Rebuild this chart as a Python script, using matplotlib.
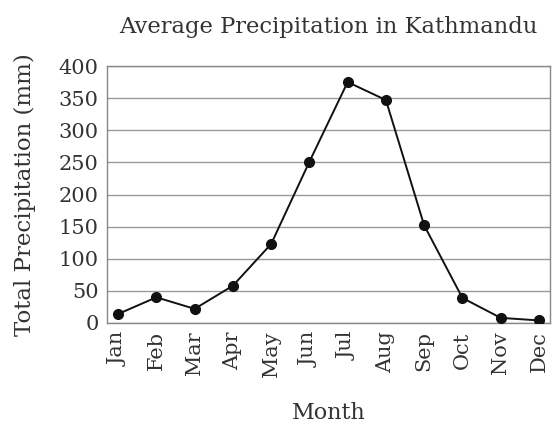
import numpy as np
import matplotlib.pyplot as plt

months = ["Jan", "Feb", "Mar", "Apr", "May", "Jun",
          "Jul", "Aug", "Sep", "Oct", "Nov", "Dec"]
precip = [14, 40, 22, 58, 123, 251, 375, 347, 152, 39, 8, 4]
yticks = [0, 50, 100, 150, 200, 250, 300, 350, 400]

plt.rcParams.update({'font.family': 'DejaVu Serif',
                     'text.color': '#333333',
                     'axes.labelcolor': '#333333',
                     'xtick.color': '#333333',
                     'ytick.color': '#333333'})

fig = plt.figure(figsize=(5.58, 4.25), dpi=100)
ax = fig.add_axes([0.1918, 0.24, 0.7939, 0.6047])

x = np.arange(len(months))
ax.plot(x, precip, color='#111111', lw=1.4, marker='o', ms=7, zorder=3)

ax.set_xlim(-0.29, 11.29)
ax.set_ylim(0, 400)
ax.set_yticks(yticks)
ax.set_xticks(x)
ax.set_xticklabels(months, rotation=90)
ax.tick_params(axis='both', labelsize=15, length=0, pad=6)
ax.yaxis.grid(True, color='#999999', lw=1)
ax.set_axisbelow(True)
for s in ax.spines.values():
    s.set_color('#888888')
    s.set_linewidth(1)

ax.set_xlabel("Month", fontsize=16, labelpad=18)
ax.set_ylabel("Total Precipitation (mm)", fontsize=16.5, labelpad=16)
fig.text(0.588, 0.937, "Average Precipitation in Kathmandu", fontsize=16.3,
         ha='center', va='center')

fig.savefig("out.png", dpi=100)
